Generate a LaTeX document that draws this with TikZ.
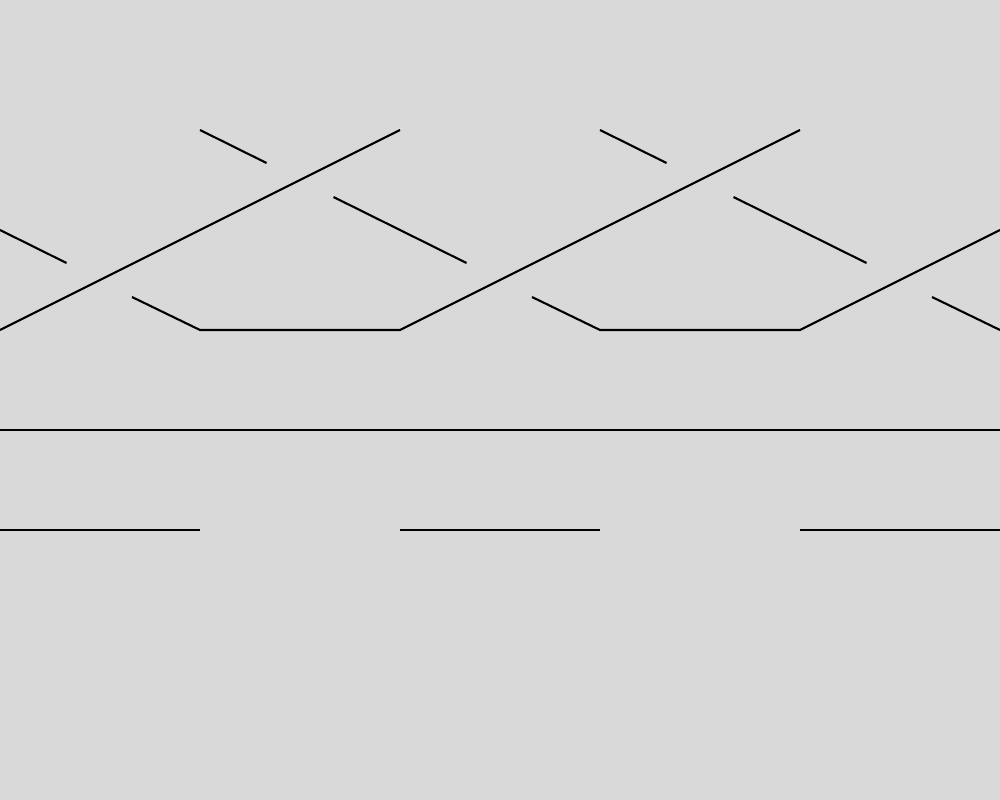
\documentclass[tikz,border=0pt]{standalone}
\definecolor{bg}{HTML}{D9D9D9}
\begin{document}
\begin{tikzpicture}[x=0.01cm,y=-0.01cm,strand/.style={line width=0.6pt,black,line cap=butt,line join=miter}]
\fill[bg] (0,0) rectangle (1000,800);
\useasboundingbox (0,0) rectangle (1000,800);
\coordinate (a1) at (0,330); \coordinate (a2) at (400,130);
\coordinate (b1) at (132,297); \coordinate (b2) at (200,330); \coordinate (b3) at (400,330); \coordinate (b4) at (800,130);
\coordinate (c1) at (532,297); \coordinate (c2) at (600,330); \coordinate (c3) at (800,330); \coordinate (c4) at (1000,230);
\coordinate (d1) at (932,297); \coordinate (d2) at (1000,330);
\coordinate (e1) at (0,230); \coordinate (e2) at (66.5,263);
\coordinate (f1) at (200,130); \coordinate (f2) at (266.5,163);
\coordinate (f3) at (333.5,197); \coordinate (f4) at (466.5,263);
\coordinate (g1) at (600,130); \coordinate (g2) at (666.5,163);
\coordinate (g3) at (733.5,197); \coordinate (g4) at (866.5,263);
\coordinate (h1) at (0,430); \coordinate (h2) at (1000,430);
\coordinate (k1) at (0,530); \coordinate (k2) at (200,530);
\coordinate (k3) at (400,530); \coordinate (k4) at (600,530);
\coordinate (k5) at (800,530); \coordinate (k6) at (1000,530);
\draw[strand] (a1) -- (a2);
\draw[strand] (b1) -- (b2) -- (b3) -- (b4);
\draw[strand] (c1) -- (c2) -- (c3) -- (c4);
\draw[strand] (d1) -- (d2);
\draw[strand] (e1) -- (e2);
\draw[strand] (f1) -- (f2);
\draw[strand] (f3) -- (f4);
\draw[strand] (g1) -- (g2);
\draw[strand] (g3) -- (g4);
\draw[strand] (h1) -- (h2);
\draw[strand] (k1) -- (k2);
\draw[strand] (k3) -- (k4);
\draw[strand] (k5) -- (k6);
\end{tikzpicture}
\end{document}
